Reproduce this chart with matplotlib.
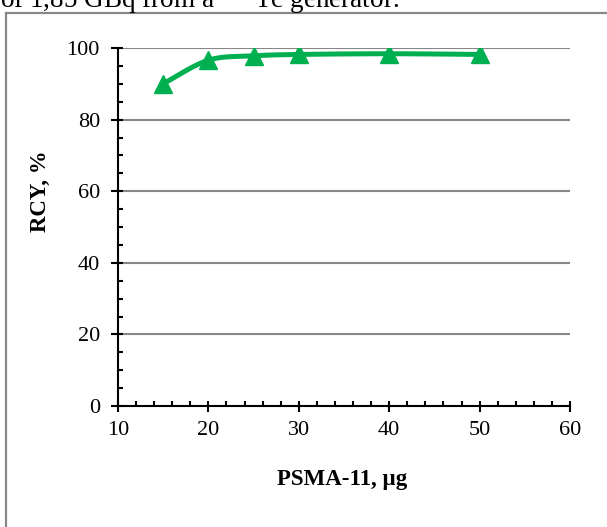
import numpy as np
import matplotlib
matplotlib.use('Agg')
import matplotlib.pyplot as plt
from matplotlib.patches import Rectangle
from matplotlib.ticker import MultipleLocator

# data
psma_ug = [15, 20, 25, 30, 40, 50]
rcy_pct = [90.0, 96.6, 97.8, 98.2, 98.4, 98.2]

x_ticks = [10, 20, 30, 40, 50, 60]
y_ticks = [0, 20, 40, 60, 80, 100]

GREEN = '#00B050'
GRID = '#878787'

plt.rcParams['font.family'] = ['Liberation Serif', 'DejaVu Serif']
plt.rcParams['mathtext.fontset'] = 'stix'


def smooth_line(xs, ys, sx, sy, n=30):
	# Excel-like smoothed line: cubic bezier, control points from neighbours
	P = np.column_stack([np.asarray(xs) * sx, np.asarray(ys) * sy])
	out = []
	for i in range(len(P) - 1):
		p0 = P[i - 1] if i > 0 else P[i]
		p1 = P[i]
		p2 = P[i + 1]
		p3 = P[i + 2] if i + 2 < len(P) else P[i + 1]
		c1 = p1 + (p2 - p0) / 6.0
		c2 = p2 - (p3 - p1) / 6.0
		t = np.linspace(0, 1, n)[:, None]
		seg = ((1 - t) ** 3) * p1 + 3 * ((1 - t) ** 2) * t * c1 + 3 * (1 - t) * t ** 2 * c2 + t ** 3 * p2
		out.append(seg if i == 0 else seg[1:])
	out = np.vstack(out)
	return out[:, 0] / sx, out[:, 1] / sy


fig = plt.figure(figsize=(6.07, 5.27), dpi=100)

# caption fragment cut off at the top of the crop
fig.text(0.0, 1 - 7.5 / 527, r'of 1,85 GBq from a $^{99m}$Tc generator.',
	fontsize=19.5, ha='left', va='baseline', color='black')

# frame round the chart
fig.patches.append(Rectangle((6 / 607, -0.1), 1.2, 1 - 12.5 / 527 + 0.1,
	transform=fig.transFigure, fill=False, edgecolor=GRID, linewidth=1.6, clip_on=False))

ax = fig.add_axes([118 / 607, 1 - 406 / 527, 452 / 607, 358 / 527])
ax.set_xlim(10, 60)
ax.set_ylim(0, 100)

for v in y_ticks[1:]:
	ax.axhline(v, color=GRID, linewidth=1.5, zorder=1)

sx, sy = 452 / 50.0, 358 / 100.0
cx, cy = smooth_line(psma_ug, rcy_pct, sx, sy)
ax.plot(cx, cy, color=GREEN, linewidth=3.6, solid_capstyle='round', zorder=3)
ax.plot(psma_ug, rcy_pct, linestyle='none', marker='^', markersize=13,
	color=GREEN, markeredgecolor=GREEN, zorder=4)

for s in ['top', 'right']:
	ax.spines[s].set_visible(False)
for s in ['left', 'bottom']:
	ax.spines[s].set_linewidth(1.5)
	ax.spines[s].set_color('black')
	ax.spines[s].set_zorder(5)

ax.set_xticks(x_ticks)
ax.set_yticks(y_ticks)
ax.xaxis.set_minor_locator(MultipleLocator(2))
ax.yaxis.set_minor_locator(MultipleLocator(5))
ax.xaxis.remove_overlapping_locs = False
ax.yaxis.remove_overlapping_locs = False
ax.tick_params(axis='x', which='major', direction='out', length=4.5, width=1.5, labelsize=16, pad=6.5)
ax.tick_params(axis='y', which='major', direction='out', length=5, width=1.5, labelsize=16, pad=8)
ax.tick_params(which='minor', direction='in', length=3.6, width=1.5)

ax.set_xlabel('PSMA-11, µg', fontsize=16.5, fontweight='bold')
ax.set_ylabel('RCY, %', fontsize=16.5, fontweight='bold')
ax.xaxis.set_label_coords((342 - 118) / 452, (406 - 480) / 358)
ax.xaxis.label.set_va('center')
ax.yaxis.set_label_coords((40 - 118) / 452, (406 - 191) / 358)
ax.yaxis.label.set_va('center')

fig.savefig('out.png', dpi=100)
